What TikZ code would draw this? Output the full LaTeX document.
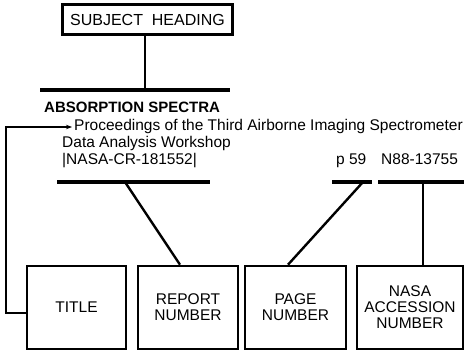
\documentclass[tikz,border=0pt]{standalone}
\usepackage{fontspec}
\setmainfont{Liberation Sans}
\usetikzlibrary{arrows.meta}

\tikzset{
  box/.style={draw, line width=2.6pt, minimum width=99pt, minimum height=83pt,
    align=center, inner sep=0pt, font=\fontsize{15.5}{16}\selectfont},
  bar/.style={line width=3.2pt},
  link/.style={line width=2.4pt},
  entry/.style={anchor=base west, inner sep=0pt, font=\fontsize{15.5}{17}\selectfont},
}

\begin{document}
\begin{tikzpicture}[x=1pt, y=-1pt]
  \useasboundingbox (0,0) rectangle (464,351);

  % subject heading
  \node[box, minimum width=170pt, minimum height=30pt, font=\fontsize{16}{17}\selectfont] (subj) at (147.5,19.5) {SUBJECT\ \ HEADING};
  \coordinate (subjL) at (40,90);
  \coordinate (subjR) at (230,90);
  \coordinate (subjM) at (145,90);
  \draw[bar] (subjL) -- (subjR);
  \draw[link] (subj.south -| subjM) -- (subjM);

  % citation
  \node[entry, font=\fontsize{15}{17}\bfseries] (heading) at (44,112) {ABSORPTION SPECTRA};
  \node[entry] (title) at (74,130) {Proceedings of the Third Airborne Imaging Spectrometer};
  \node[entry] (title2) at (62,147) {Data Analysis Workshop};
  \node[entry] (report) at (62,164) {|NASA-CR-181552|};
  \node[entry] (page) at (336,164) {p 59};
  \node[entry] (acc) at (381,164) {N88-13755};

  % bars under the fields
  \coordinate (repL) at (57,182);  \coordinate (repR) at (210,182);
  \coordinate (pagL) at (332,182); \coordinate (pagR) at (372,182);
  \coordinate (accL) at (378,182); \coordinate (accR) at (464,182);
  \draw[bar] (repL) -- (repR);
  \draw[bar] (pagL) -- (pagR);
  \draw[bar] (accL) -- (accR);
  \coordinate (repM) at (125,182);
  \coordinate (pagM) at (363,182);
  \coordinate (accM) at (423,182);

  % boxes
  \node[box] (tbox) at (76.5,307.5) {TITLE};
  \node[box, minimum width=100pt] (rbox) at (188,307.5) {REPORT\\NUMBER};
  \node[box, minimum width=101pt] (pbox) at (295.5,307.5) {PAGE\\NUMBER};
  \node[box, minimum width=106pt] (abox) at (410,307.5) {NASA\\ACCESSION\\NUMBER};

  % links
  \coordinate (tip) at (72,127);
  \draw[link, -{Stealth[length=6pt, width=4.5pt]}] ([yshift=-5.5pt]tbox.west) -- ++(-20,0) |- (tip);
  \draw[link] (repM) -- (rbox.north -| 180,0);
  \draw[link] (pagM) -- (pbox.north -| 288,0);
  \draw[link] (accM) -- (abox.north -| accM);
\end{tikzpicture}
\end{document}
